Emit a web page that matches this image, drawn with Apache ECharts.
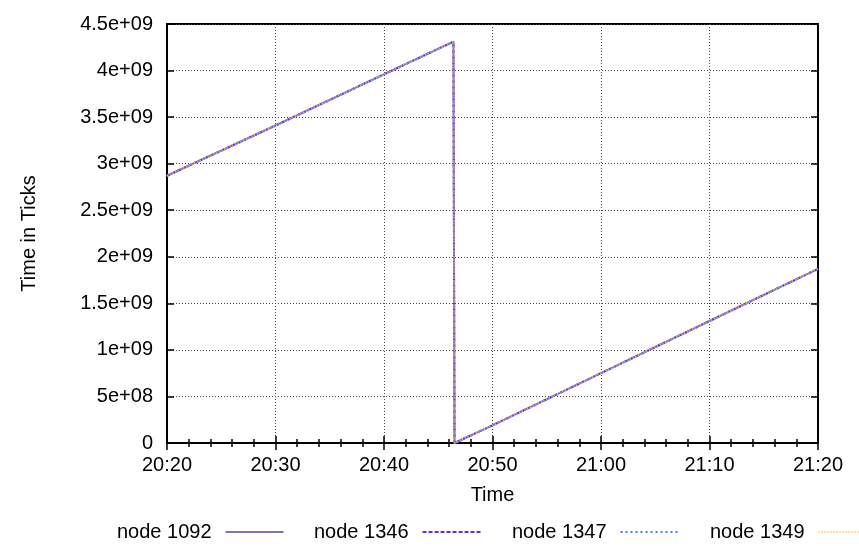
<!DOCTYPE html>
<html>
<head>
<meta charset="utf-8">
<script src="https://cdn.jsdelivr.net/npm/echarts@6/dist/echarts.min.js"></script>
<style>
  html, body { margin: 0; padding: 0; background: #fff; }
  #main { width: 859px; height: 546px; }
</style>
</head>
<body>
<div id="main"></div>
<script>
// time as minutes since midnight (20:20 = 1220)
var timeMinutes = [1220, 1230, 1240, 1246.4, 1246.5, 1250, 1260, 1270, 1280];
var node1092 = [2.87e9, 3.41e9, 3.96e9, 4.31e9, 0, 0.19e9, 0.75e9, 1.31e9, 1.87e9];
var node1346 = [2.87e9, 3.41e9, 3.96e9, 4.31e9, 0, 0.19e9, 0.75e9, 1.31e9, 1.87e9];
var node1347 = [2.87e9, 3.41e9, 3.96e9, 4.31e9, 0, 0.19e9, 0.75e9, 1.31e9, 1.87e9];
var node1349 = [2.87e9, 3.41e9, 3.96e9, 4.31e9, 0, 0.19e9, 0.75e9, 1.31e9, 1.87e9];
var yTickLabels = ['0', '5e+08', '1e+09', '1.5e+09', '2e+09', '2.5e+09', '3e+09', '3.5e+09', '4e+09', '4.5e+09'];
var seriesNames = ['node 1092', 'node 1346', 'node 1347', 'node 1349'];
var seriesColors = ['#8a70b0', '#6a2de0', '#4a78ff', '#ffc050'];
var seriesTypes = ['solid', [4, 2], [2, 3], [1, 2]];
var legendLeft = [112, 309, 507, 705];

function pairs(ys) {
  return timeMinutes.map(function (t, i) { return [t, ys[i]]; });
}
var allData = [node1092, node1346, node1347, node1349];

var font = 'Liberation Sans, Arial, Helvetica, sans-serif';
var chart = echarts.init(document.getElementById('main'));

function fmtTime(v) {
  var h = Math.floor(v / 60), m = Math.round(v % 60);
  return h + ':' + (m < 10 ? '0' : '') + m;
}

var tickCommon = { show: true, inside: true, length: 7, lineStyle: { color: '#000', width: 1.5 } };
var minorCommon = { show: true, splitNumber: 5, length: 4, lineStyle: { color: '#000', width: 1.5 } };

var option = {
  animation: false,
  backgroundColor: '#fff',
  grid: { left: 167, right: 41, top: 24, bottom: 103, show: true, borderColor: '#000', borderWidth: 2 },
  xAxis: [{
    type: 'value', min: 1220, max: 1280, interval: 10,
    name: 'Time', nameLocation: 'middle', nameGap: 42,
    nameTextStyle: { fontFamily: font, fontSize: 20, color: '#000' },
    axisLine: { lineStyle: { color: '#000', width: 2 } },
    axisTick: tickCommon,
    minorTick: minorCommon,
    axisLabel: { formatter: fmtTime, fontFamily: font, fontSize: 20, color: '#000', margin: 12 },
    splitLine: { show: true, lineStyle: { color: '#444', type: [1, 2], width: 1 } }
  }, {
    type: 'value', min: 1220, max: 1280, interval: 10, position: 'top',
    axisLine: { lineStyle: { color: '#000', width: 2 } },
    axisTick: tickCommon, minorTick: minorCommon,
    axisLabel: { show: false }, splitLine: { show: false }
  }],
  yAxis: [{
    type: 'value', min: 0, max: 4.5e9, interval: 5e8,
    name: 'Time in Ticks', nameLocation: 'middle', nameGap: 128,
    nameTextStyle: { fontFamily: font, fontSize: 20, color: '#000' },
    axisLine: { show: true, lineStyle: { color: '#000', width: 2 } },
    axisTick: tickCommon,
    axisLabel: {
      formatter: function (v) { return yTickLabels[Math.round(v / 5e8)]; },
      fontFamily: font, fontSize: 20, color: '#000', margin: 14
    },
    splitLine: { show: true, lineStyle: { color: '#444', type: [1, 2], width: 1 } }
  }, {
    type: 'value', min: 0, max: 4.5e9, interval: 5e8, position: 'right',
    axisLine: { show: true, lineStyle: { color: '#000', width: 2 } },
    axisTick: tickCommon,
    axisLabel: { show: false }, splitLine: { show: false }
  }],
  legend: seriesNames.map(function (n, i) {
    return {
      data: [n], left: legendLeft[i], top: 517, align: 'right',
      itemWidth: 58, itemHeight: 14,
      itemStyle: { opacity: 0 },
      textStyle: { fontFamily: font, fontSize: 20, color: '#000', padding: [0, 9, 0, 0] }
    };
  }),
  series: seriesNames.map(function (n, i) {
    return {
      name: n, type: 'line', data: pairs(allData[i]),
      symbol: 'none', color: seriesColors[i],
      lineStyle: { color: seriesColors[i], width: 2, type: seriesTypes[i] },
      z: 2 + i
    };
  })
};
chart.setOption(option);
</script>
</body>
</html>
